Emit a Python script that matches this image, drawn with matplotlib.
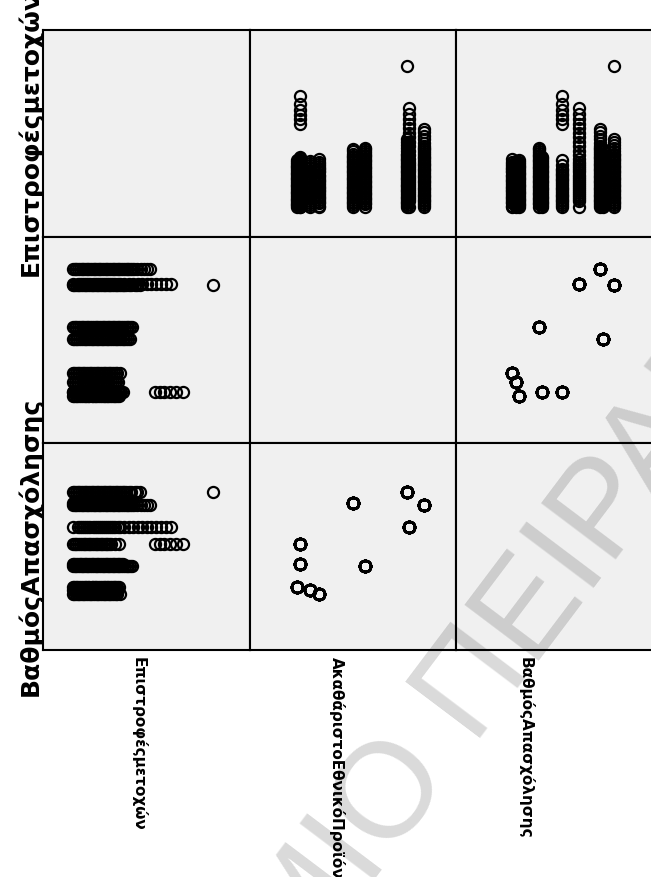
import matplotlib
matplotlib.use("Agg")
import matplotlib.pyplot as plt
import numpy as np

# Country-level indicators (one entry per country)
gdp = [45.9, 50.6, 46.2, 30.2, 14.8, 14.8, 33.7, 13.7, 17.7, 20.3]
employment = [70.6, 67.9, 63.8, 68.4, 60.5, 56.6, 56.1, 52.2, 51.6, 50.8]

# Stock returns observed in each country (%)
returns_1 = [-3.4, -2.9, -2.4, -1.9, -1.4, -0.9, -0.4, 0.1, 0.6, 1.1, 1.6, 2.1, 2.6,
             3.1, 3.6, 4.1, 4.6, 5.1, 5.6, 6.1, 6.6, 7.1, 7.6, 8.1, 8.6, 9.1, 9.6,
             10.1, 10.6, 11.1, 11.6, 12.0, 12.9, 13.7, 14.6, 15.4, 16.2, 37.4]
returns_2 = [-3.3, -2.8, -2.3, -1.8, -1.3, -0.8, -0.3, 0.2, 0.7, 1.2, 1.7, 2.2, 2.7,
             3.2, 3.7, 4.2, 4.7, 5.2, 5.7, 6.2, 6.7, 7.2, 7.7, 8.2, 8.7, 9.2, 9.7,
             10.2, 10.7, 11.2, 11.8, 12.3, 12.8, 13.3, 13.8, 14.3, 15.3, 16.4, 17.3,
             18.3, 19.2]
returns_3 = [-3.4, -1.8, -1.2, -0.6, 0.0, 0.6, 1.2, 1.8, 2.4, 3.0, 3.6, 4.2, 4.8, 5.4,
             6.0, 6.6, 7.2, 7.8, 8.4, 9.0, 9.7, 10.4, 11.6, 12.9, 14.2, 15.5, 16.8,
             18.1, 19.4, 20.8, 22.2, 23.7, 25.3]
returns_4 = [-3.4, -2.9, -2.4, -2.0, -1.4, -0.9, -0.5, 0.1, 0.6, 1.0, 1.6, 2.1, 2.5,
             3.1, 3.6, 4.0, 4.6, 5.1, 5.5, 6.1, 6.6, 7.0, 7.6, 8.1, 8.5, 9.1, 9.6,
             10.0, 10.6, 11.1, 11.5, 12.1, 12.7, 13.3]
returns_5 = [-3.3, -2.8, -2.3, -1.7, -1.3, -0.8, -0.2, 0.2, 0.7, 1.3, 1.8, 2.2, 2.8,
             3.3, 3.7, 4.3, 4.8, 5.2, 5.8, 6.3, 6.7, 7.3, 7.7, 8.8, 10.1,
             20.6, 22.0, 23.3, 24.9, 26.6, 28.7]
returns_6 = [-3.4, -2.9, -2.4, -1.9, -1.3, -0.9, -0.4, 0.2, 0.6, 1.1, 1.7, 2.2, 2.6,
             3.2, 3.7, 4.1, 4.7, 5.2, 5.6, 6.2, 6.7, 7.1, 7.7, 8.2, 8.6, 9.2, 9.7,
             10.1, 10.7, 11.2]
returns_7 = [-3.3, -2.7, -2.3, -1.8, -1.2, -0.8, -0.3, 0.3, 0.7, 1.2, 1.8, 2.3, 2.7,
             3.3, 3.8, 4.2, 4.8, 5.3, 5.7, 6.3, 6.8, 7.2, 7.8, 8.3, 8.7, 9.3, 9.8,
             10.2, 10.8, 11.3, 11.7, 12.3, 12.8, 13.3, 13.8]
returns_8 = [-3.4, -2.9, -2.5, -2.0, -1.4, -1.0, -0.5, 0.1, 0.6, 1.0, 1.5, 2.1, 2.6,
             3.0, 3.5, 4.1, 4.6, 5.0, 5.6, 6.1, 6.5, 7.0, 7.6, 8.1, 8.5, 9.0, 9.6, 10.2]
returns_9 = [-3.3, -2.8, -2.2, -1.8, -1.2, -0.7, -0.3, 0.3, 0.8, 1.2, 1.8, 2.3, 2.7,
             3.3, 3.8, 4.2, 4.8, 5.3, 5.7, 6.3, 6.8, 7.2, 7.8, 8.3, 8.8, 9.3, 9.9]
returns_10 = [-3.4, -3.0, -2.4, -1.9, -1.5, -0.9, -0.4, 0.0, 0.5, 1.1, 1.6, 2.0, 2.5,
              3.1, 3.6, 4.0, 4.5, 5.1, 5.6, 6.0, 6.6, 7.1, 7.5, 8.0, 8.6, 9.1, 9.6, 10.4]

returns_by_country = [returns_1, returns_2, returns_3, returns_4, returns_5,
                      returns_6, returns_7, returns_8, returns_9, returns_10]

var_labels = ["Επιστροφέςμετοχών", "ΑκαθάριστοΕθνικόΠροϊόν", "ΒαθμόςΑπασχόλησης"]
var_limits = [(-12, 48), (0, 60), (40, 80)]

# Expand to one row per observation
ret_obs = np.concatenate([np.asarray(r, float) for r in returns_by_country])
gdp_obs = np.concatenate([[g] * len(r) for g, r in zip(gdp, returns_by_country)])
emp_obs = np.concatenate([[e] * len(r) for e, r in zip(employment, returns_by_country)])
columns = [ret_obs, gdp_obs, emp_obs]

W, H = 651, 877
fig = plt.figure(figsize=(W / 100, H / 100), dpi=100)
fig.patch.set_facecolor("white")

left, top, cell = 43, 30, 206.5
for i in range(3):
    for j in range(3):
        ax = fig.add_axes([(left + j * cell) / W, 1 - (top + (i + 1) * cell) / H,
                           cell / W, cell / H])
        ax.set_facecolor("#f0f0f0")
        ax.set_xlim(*var_limits[j])
        ax.set_ylim(*var_limits[i])
        ax.set_xticks([])
        ax.set_yticks([])
        for s in ax.spines.values():
            s.set_linewidth(1.5)
            s.set_color("black")
        if i != j:
            ax.plot(columns[j], columns[i], "o", ms=8, mfc="none", mec="black",
                    mew=1.6, linestyle="none")

# Row titles on the left
label_kw = dict(fontsize=18, fontweight="bold", family="DejaVu Sans",
                ha="center", va="center", rotation=90)
fig.text(30 / W, 1 - (top + 0.5 * cell) / H, var_labels[0], **label_kw)
fig.text(30 / W, 1 - (top + 2.5 * cell) / H, var_labels[2], **label_kw)

# Column titles below the grid
col_x = [139, 337, 526]
for x, lab in zip(col_x, var_labels):
    fig.text(x / W, 1 - 657 / H, lab, rotation=-90, ha="center", va="top",
             fontsize=11, fontweight="bold", family="DejaVu Sans")

# Diagonal watermark
ang = 53
wm_kw = dict(rotation=ang, rotation_mode="anchor", va="baseline", fontsize=97,
             family="Liberation Sans", color="black", alpha=0.15, zorder=10)
ax0, ay0 = 470, 738
fig.text(ax0 / W, 1 - ay0 / H, "ΠΕΙΡΑΙΑ", ha="left", **wm_kw)
gap = 36
bx, by = ax0 - gap * np.cos(np.radians(ang)), ay0 + gap * np.sin(np.radians(ang))
fig.text(bx / W, 1 - by / H, "ΠΑΝΕΠΙΣΤΗΜΙΟ", ha="right", **wm_kw)

fig.savefig("out.png", dpi=100)
